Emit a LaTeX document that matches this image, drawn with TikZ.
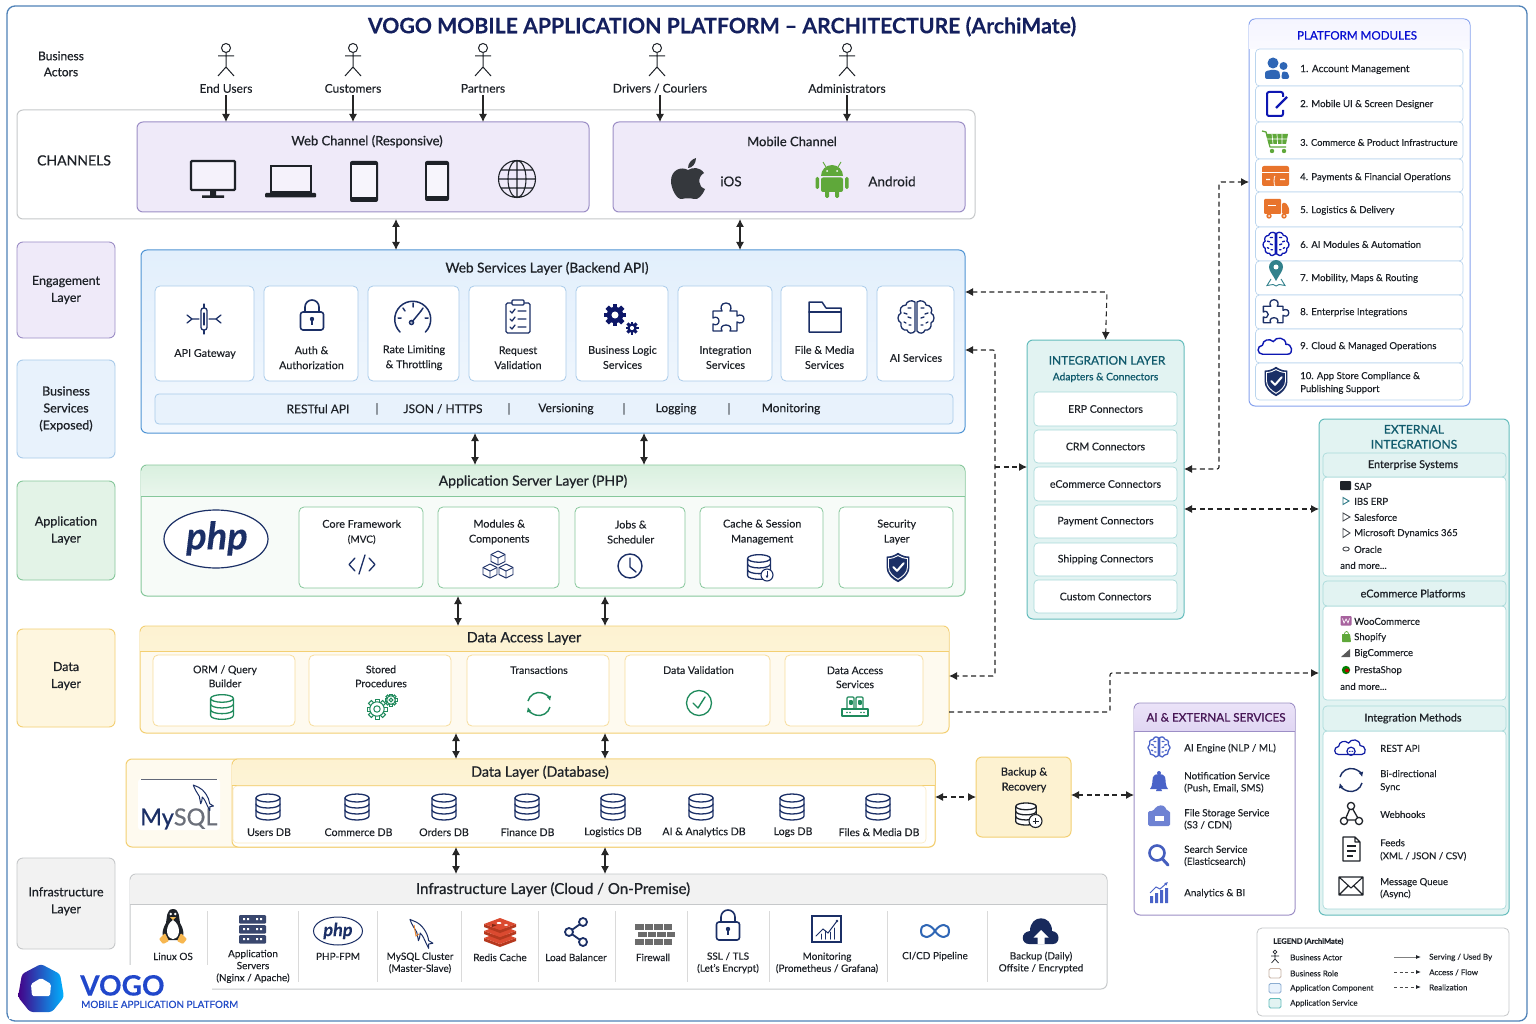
\documentclass[tikz,border=0pt]{standalone}
\usepackage{fontspec}
\setmainfont{Lato}[FakeBold=0.15]
\newfontfamily\med[FakeBold=0.7]{Lato}
\usetikzlibrary{arrows.meta,calc}
\definecolor{ink}{HTML}{1E2228}
\definecolor{navy}{HTML}{1B2F66}
\definecolor{titlec}{HTML}{14205E}
\definecolor{frame}{HTML}{4F82B8}
\definecolor{purb}{HTML}{9C8EC6}
\definecolor{purf}{HTML}{EFEAF9}
\definecolor{blub}{HTML}{4F94D4}
\definecolor{bluf}{HTML}{E8F2FC}
\definecolor{blul}{HTML}{A9CBEA}
\definecolor{grnb}{HTML}{86C79B}
\definecolor{grnf}{HTML}{E3F3E7}
\definecolor{yelb}{HTML}{F3CF72}
\definecolor{yelf}{HTML}{FDF2D1}
\definecolor{gryb}{HTML}{C6C8CA}
\definecolor{gryf}{HTML}{F2F2F2}
\definecolor{teab}{HTML}{63BCBC}
\definecolor{teaf}{HTML}{E2F3F2}
\definecolor{teat}{HTML}{105A6C}
\definecolor{tgrn}{HTML}{1F8A5C}
\definecolor{modb}{HTML}{2F66B5}
\definecolor{orng}{HTML}{E8742C}
\definecolor{cartg}{HTML}{5FA83A}
\definecolor{aib}{HTML}{4A63C8}
\definecolor{arrc}{HTML}{262626}
\definecolor{hgtop}{HTML}{D9F0DF}
\definecolor{hgbot}{HTML}{EAF6ED}
\definecolor{hptop}{HTML}{EBE3F8}
\definecolor{hpbot}{HTML}{E0D6F3}
\definecolor{webtop}{HTML}{E2EFFC}
\definecolor{webbot}{HTML}{F3F8FE}
\definecolor{redb}{HTML}{DB4A30}
\definecolor{redd}{HTML}{B5391F}
\newcounter{tn}
\tikzset{
 f/.style args={#1/#2}{font=\fontsize{#1}{#2}\selectfont},
 txt/.style={inner sep=0,align=center,text=ink,f=11/14,yshift=-0.4pt},
 ltxt/.style={txt,anchor=west,align=left},
 card/.style={draw=#1,fill=white,rounded corners=5pt,line width=.8pt},
 side/.style 2 args={draw=#1,fill=#2,rounded corners=6pt,line width=.9pt,text=ink,align=center,font=\fontsize{12.5}{17}\med},
 panel/.style 2 args={draw=#1,fill=#2,rounded corners=6pt,line width=1pt},
 bi/.style={line width=1.1pt,draw=arrc,{Latex[length=8pt,width=8pt]}-{Latex[length=8pt,width=8pt]}},
 one/.style={line width=1.1pt,draw=arrc,-{Latex[length=8pt,width=8pt]}},
 dbi/.style={line width=1.1pt,draw=arrc,dash pattern=on 5pt off 3.5pt,rounded corners=2pt,{Latex[length=8pt,width=8pt]}-{Latex[length=8pt,width=8pt]}},
 done/.style={line width=1.1pt,draw=arrc,dash pattern=on 5pt off 3.5pt,rounded corners=2pt,-{Latex[length=8pt,width=8pt]}},
 ico/.style={line width=1.3pt,line cap=round,line join=round},
}
\newcommand{\pbx}[7]{\pgfmathsetmacro\bxw{#5-#3}\pgfmathsetmacro\bxh{#6-#4}\pgfmathsetmacro\bxx{(#3+#5)/2}\pgfmathsetmacro\bxy{(#4+#6)/2}\node[#2,minimum width=\bxw pt,minimum height=\bxh pt,inner sep=0,outer sep=0] (#1) at (\bxx,\bxy) {#7};}
\newcommand{\ptx}[4][]{\stepcounter{tn}\node[txt,#1] (t\arabic{tn}) at (#2,#3) {#4};}
\newcommand{\plx}[4][]{\stepcounter{tn}\node[ltxt,#1] (t\arabic{tn}) at (#2,#3) {#4};}
\newcommand{\phead}[7]{\path[top color=#5,bottom color=#6] (#1,#4) [rounded corners=#7pt] -- (#1,#2) -- (#3,#2) [sharp corners] -- (#3,#4) -- cycle;}
% icons
\newcommand{\icdb}[4]{\begin{scope}[shift={(#1,#2)},scale=#3,color=#4,ico]
\draw[fill=white] (-12,-9) -- (-12,9) arc (180:0:12 and 4) -- (12,-9);
\draw[fill=white] (0,-9) ellipse (12 and 4);
\draw (-12,-3) arc (180:0:12 and 4) (-12,3) arc (180:0:12 and 4);
\end{scope}}
\newcommand{\icbrain}[4]{\begin{scope}[shift={(#1,#2)},scale=#3,color=#4,ico]
\foreach \s in {1,-1}{\begin{scope}[xscale=\s]
\draw[fill=white] (1,-15)..controls(5,-18)and(10,-15)..(10,-12)..controls(15,-12)and(17,-7)..(15,-4)..controls(19,-2)and(19,4)..(15,6)..controls(16,10)and(13,14)..(9,13)..controls(8,17)and(3,17)..(1,14)--cycle;
\draw (5,-9)--(8,-9) (9,-3)--(12,-4) (5,1)--(8,0) (10,6)--(12,5) (5,8)--(7,8);
\end{scope}}
\end{scope}}
\newcommand{\icpuzzle}[5]{\begin{scope}[shift={(#1,#2)},scale=#3,color=#4,ico]
\draw[fill=#5] (-13,-7) -- (-4,-7) .. controls (-6,-10) and (-5,-15) .. (0,-15) .. controls (5,-15) and (6,-10) .. (4,-7) -- (11,-7) -- (11,-2) .. controls (14,-4) and (18,-3) .. (18,1) .. controls (18,5) and (14,6) .. (11,4) -- (11,13) -- (4,13) .. controls (6,10) and (4,7) .. (0,7) .. controls (-4,7) and (-6,10) .. (-4,13) -- (-13,13) -- (-13,6) .. controls (-10,8) and (-7,6) .. (-7,3) .. controls (-7,0) and (-10,-2) .. (-13,0) -- cycle;
\end{scope}}
\newcommand{\iccloud}[3]{(-15,8) .. controls (-21,8) and (-22,-1) .. (-15,-2) .. controls (-15,-8) and (-7,-10) .. (-3,-6) .. controls (0,-12) and (11,-11) .. (11,-3) .. controls (18,-4) and (20,8) .. (13,8) -- cycle}
\newcommand{\icshield}[3]{\begin{scope}[shift={(#1,#2)},scale=#3]
\fill[navy] (0,-15) .. controls (4,-12) and (8,-11) .. (12,-11) -- (12,0) .. controls (12,8) and (6,13) .. (0,16) .. controls (-6,13) and (-12,8) .. (-12,0) -- (-12,-11) .. controls (-8,-11) and (-4,-12) .. (0,-15) -- cycle;
\draw[white,line width=.9pt] (0,-12) .. controls (3,-10) and (7,-9) .. (10,-9) -- (10,0) .. controls (10,6) and (5,10) .. (0,13) .. controls (-5,10) and (-10,6) .. (-10,0) -- (-10,-9) .. controls (-7,-9) and (-3,-10) .. (0,-12) -- cycle;
\draw[white,line width=2pt,line cap=round,line join=round] (-5,0) -- (-1,4) -- (6,-4);
\end{scope}}
\newcommand{\icgearf}[4]{\begin{scope}[shift={(#1,#2)}]
\foreach \a in {0,45,...,315}{\fill[#4,rotate=\a] ({-0.22*#3},{-#3}) rectangle ({0.22*#3},{-0.6*#3});}
\fill[#4] (0,0) circle ({0.75*#3});\fill[white] (0,0) circle ({0.32*#3});
\end{scope}}
\newcommand{\icgearo}[4]{\begin{scope}[shift={(#1,#2)},color=#4,line width=1pt]
\foreach \a in {0,45,...,315}{\draw[rotate=\a,fill=white] ({-0.2*#3},{-#3}) rectangle ({0.2*#3},{-0.6*#3});}
\draw[fill=white] (0,0) circle ({0.72*#3});\draw (0,0) circle ({0.32*#3});
\end{scope}}
\newcommand{\iclock}[3]{\begin{scope}[shift={(#1,#2)},scale=#3,color=navy,line width=1.6pt,line join=round]
\draw (-7,-3) -- (-7,-8) arc (180:360:7) -- (7,-3);
\draw[fill=white,rounded corners=2.5pt] (-11.5,-3) rectangle (11.5,15);
\fill (0,4) circle (2.2); \draw (0,4) -- (0,10);
\end{scope}}
\newcommand{\icdolph}[4]{\begin{scope}[shift={(#1,#2)},scale=#3,color=#4,line width=1pt,line join=round,line cap=round]
\draw (-13,-16) -- (-6,-13) .. controls (1,-10) and (8,0) .. (9,9) -- (14,12) -- (9,13) -- (9,18) -- (6,12) .. controls (4,8) and (3,4) .. (-1,0) .. controls (-1,4) and (-2,7) .. (-3,9) -- (-5,-1) .. controls (-8,-6) and (-11,-10) .. (-13,-16) -- cycle;
\end{scope}}
\newcommand{\iccycle}[4]{\begin{scope}[shift={(#1,#2)},scale=#3,color=#4,line width=1.4pt]
\draw[-{Latex[length=5pt,width=5pt]}] (-11,-3) arc (195:345:11.5);
\draw[-{Latex[length=5pt,width=5pt]}] (11,3) arc (15:165:11.5);
\end{scope}}
\begin{document}
\begin{tikzpicture}[x=1pt,y=-1pt]
\useasboundingbox (0,0) rectangle (1536,1024);
\fill[white] (0,0) rectangle (1536,1024);
\pbx{outer}{draw=frame,fill=white,rounded corners=8pt,line width=1.3pt}{7}{6}{1527}{1021}{}
\node[txt,text=titlec,font=\fontsize{21.25}{26}\bfseries] (title) at (722,26.2) {VOGO MOBILE APPLICATION PLATFORM – ARCHITECTURE (ArchiMate)};
\ptx[f=12/16]{61}{63.5}{\med Business\\\med Actors}
% actors
\foreach \n/\ax/\lx/\lab in {a/226/226/End Users,b/353/353/Customers,c/483/483/Partners,d/657/660/{Drivers / Couriers},e/847/847/Administrators}{
 \draw[line width=1pt,ink] (\ax,48) circle (4.5) (\ax,52.5) -- (\ax,67) (\ax-8,56) -- (\ax+8,56) (\ax-8,76) -- (\ax,67) -- (\ax+8,76);
 \node[txt,f=12/15] (act\n) at (\lx,88) {\lab};
}
% channels
\pbx{chan}{panel={gryb}{white!97!gryf}}{17}{110}{975}{219}{}
\ptx[f=14/16]{74}{160}{\med CHANNELS}
\pbx{webc}{panel={purb}{purf}}{137}{122}{589}{212}{}
\ptx[f=13/16]{367}{141}{\med Web Channel (Responsive)}
\pbx{mobc}{panel={purb}{purf}}{613}{122}{965}{212}{}
\ptx[f=13/16]{792}{141}{\med Mobile Channel}
\ptx[f=13.5/16]{731}{181}{iOS}
\ptx[f=13.5/16]{892}{181}{Android}
\foreach \n/\ax in {a/226,b/353,c/483}{\draw[one,shorten <=2pt] (act\n.south) -- (act\n.south |- webc.north);}
\coordinate (dx) at (660,0);\coordinate (ex) at (847,0);
\draw[one,shorten <=2pt] (dx |- actd.south) -- (dx |- mobc.north);
\draw[one,shorten <=2pt] (ex |- acte.south) -- (ex |- mobc.north);
% device icons
\draw[ink,line width=2.4pt,fill=purf!60!white,rounded corners=1pt] (191,161) rectangle (235,190);
\fill[ink] (210,191) rectangle (216,196) (202,195.5) rectangle (224,198);
\draw[ink,line width=1.8pt,fill=purf!60!white] (271,166) rectangle (311,192);
\fill[ink,rounded corners=1pt] (265,193) rectangle (316,197.5);
\fill[ink,rounded corners=2pt] (350,161) rectangle (378,202);
\fill[purf!50!white] (352,165) rectangle (376,197);
\fill[ink,rounded corners=2pt] (425,161) rectangle (449,201);
\fill[purf!50!white] (426.7,165) rectangle (447.3,196);
\begin{scope}[shift={(517,179)},ink,line width=1.1pt]
\draw (0,0) circle (18.5) (0,0) ellipse (9 and 18.5) (0,-18.5) -- (0,18.5) (-18.5,0) -- (18.5,0) (-16,-9) -- (16,-9) (-16,9) -- (16,9);
\end{scope}
% apple
\begin{scope}[shift={(688,179)},ink!90!white]
\fill (0,-9) .. controls (5,-12) and (12,-12) .. (16,-6) .. controls (9,-2) and (10,8) .. (17,10) .. controls (14,17) and (10,21) .. (6,20) .. controls (3,19) and (-3,19) .. (-6,20) .. controls (-11,21) and (-17,10) .. (-17,2) .. controls (-17,-9) and (-7,-13) .. (0,-9) -- cycle;
\fill (0,-11) .. controls (0,-16) and (4,-20) .. (8,-21) .. controls (8,-15) and (4,-11) .. (0,-11) -- cycle;
\end{scope}
% android
\begin{scope}[shift={(832,180)},cartg]
\fill (-11,-4) arc (180:360:11 and 11) -- cycle;
\fill[rounded corners=2pt] (-11,-2.5) rectangle (11,12);
\fill[rounded corners=1.5pt] (-16.5,-3) rectangle (-13,9) (13,-3) rectangle (16.5,9) (-7,10) rectangle (-3,18) (3,10) rectangle (7,18);
\draw[line width=.9pt] (-6,-13) -- (-9,-18) (6,-13) -- (9,-18);
\fill[white] (-5,-9) circle (1) (5,-9) circle (1);
\end{scope}
% side labels
\pbx{sEng}{side={purb}{purf}}{17}{242}{115}{338}{Engagement\\Layer}
\pbx{sBus}{side={blul}{bluf}}{17}{360}{115}{458}{Business\\Services\\(Exposed)}
\pbx{sApp}{side={grnb}{grnf}}{17}{481}{115}{580}{Application\\Layer}
\pbx{sDat}{side={yelb}{yelf!70!white},text depth=6pt}{17}{629}{115}{727}{Data\\Layer}
\pbx{sInf}{side={gryb}{gryf},text depth=6.5pt}{17}{858}{115}{949}{Infrastructure\\Layer}
% web services layer
\pbx{web}{draw=blub,top color=webtop,bottom color=webbot,rounded corners=6pt,line width=1pt}{141}{250}{965}{433}{}
\ptx[f=13.6/16]{547}{268}{\med Web Services Layer (Backend API)}
\foreach \n/\xa/\xb/\lab/\ty in {1/155/254/API Gateway/353.5, 2/264/358/{Auth \&\\Authorization}/357.3, 3/368/459/{Rate Limiting\\\& Throttling}/357.3, 4/469/566/{Request\\Validation}/357.3, 5/576/668/{Business Logic\\Services}/357, 6/678/772/{Integration\\Services}/357, 7/781/867/{File \& Media\\Services}/357, 8/877/954/AI Services/357.5}{
 \pbx{wc\n}{card=blul}{\xa}{286}{\xb}{381}{}
 \pgfmathsetmacro\cx{(\xa+\xb)/2+.5}
 \node[txt,f=10.8/15] (wl\n) at (\cx,\ty) {\lab};
}
% web icons
\begin{scope}[shift={(204,319)},navy,ico]
\draw[rounded corners=2.5pt] (-3,-11) rectangle (3,11);
\draw (0,-15) -- (0,-11) (0,11) -- (0,15) (0,-6) -- (0,6);
\draw (-17,-4) -- (-12,0) -- (-17,4) (-12,0) -- (-5,0) (17,-4) -- (12,0) -- (17,4) (12,0) -- (5,0);
\end{scope}
\iclock{312}{315}{1}
\begin{scope}[shift={(413,320)},navy,line width=1.5pt,line cap=round]
\draw (-13,12) arc (135:405:18);
\draw (-15,-2) -- (-12,-2) (0,-17) -- (0,-13) (15,-2) -- (12,-2) (-10,-12) -- (-8,-9) (10,-12) -- (8,-9);
\draw (-1,2) -- (8,-9); \draw (-1.5,2.5) circle (2);
\end{scope}
\begin{scope}[shift={(518,317)},navy,ico]
\draw[rounded corners=1.5pt] (-12,-14) rectangle (12,16);
\draw[fill=white,rounded corners=1pt] (-6,-17) rectangle (6,-12);
\foreach \yy in {-6,2,10}{\draw (-8,\yy) -- (-6,{\yy+2}) -- (-3,{\yy-2}) (0,\yy) -- (8,\yy);}
\end{scope}
\icgearf{615}{315}{11}{navy!70!blue!70!black}
\icgearf{632}{328}{6.5}{navy!70!blue!70!black}
\icpuzzle{726}{318}{1}{navy}{white}
\begin{scope}[navy,ico,line width=1.5pt]
\draw[fill=white] (809,332) -- (809,302) -- (822,302) -- (826,308) -- (841,308) -- (841,332) -- cycle;
\draw (809,312) -- (841,312);
\end{scope}
\icbrain{916}{317}{1}{navy}
\pbx{strip}{draw=blul,fill=bluf,rounded corners=4pt,line width=.8pt}{155}{394}{953}{424}{}
\foreach \xx/\lab in {318/RESTful API,377/|,443/{JSON / HTTPS},509/|,566/Versioning,624/|,676/Logging,729/|,791/Monitoring}{\ptx[f=12/14]{\xx}{408.5}{\lab}}
% application server
\pbx{app}{panel={grnb}{white!70!grnf}}{141}{465}{965}{596}{}
\phead{141.5}{465.5}{964.5}{496}{hgtop}{hgbot}{6}
\draw[grnb,line width=.7pt] (141,496) -- (965,496);
\ptx[f=14/16]{533}{481}{\med Application Server Layer (PHP)}
\draw[navy,line width=1.2pt,fill=white] (216,539) ellipse (52 and 29);
\ptx[text=navy,font=\fontsize{38}{40}\bfseries\itshape]{217}{538}{php}
\foreach \n/\xa/\xb/\lab in {1/299/423/{Core Framework\\{\fontsize{10}{13}\selectfont(MVC)}},2/438/559/{Modules \&\\Components},3/575/685/{Jobs \&\\Scheduler},4/700/823/{Cache \& Session\\Management},5/839/953/{Security\\Layer}}{
 \pbx{ac\n}{card=grnb}{\xa}{507}{\xb}{588}{}
 \pgfmathsetmacro\cx{(\xa+\xb)/2+.7}
 \node[txt,f=10.8/15] (al\n) at (\cx,531.6) {\lab};
}
\begin{scope}[navy,ico]
\draw (355,558) -- (349,564.5) -- (355,571) (369,558) -- (375,564.5) -- (369,571) (365,555) -- (359,574);
\end{scope}
\begin{scope}[shift={(498,566)},navy,line width=.9pt,line join=round,fill=white]
\foreach \cxx/\cyy in {0/-9,-8/4,8/4}{
\begin{scope}[shift={(\cxx,\cyy)}]
\draw[fill=white] (0,-6) -- (7,-2.5) -- (7,4.5) -- (0,8) -- (-7,4.5) -- (-7,-2.5) -- cycle;
\draw (-7,-2.5) -- (0,1) -- (7,-2.5) (0,1) -- (0,8);
\end{scope}}
\end{scope}
\draw[navy,line width=1.4pt] (630,566) circle (12);
\draw[navy,line width=1.4pt,line cap=round] (630,558) -- (630,567) -- (636,572);
\icdb{759}{567}{.95}{navy}
\draw[navy,line width=1.1pt,fill=white] (767,575) circle (6);
\draw[navy,line width=.9pt,-{Latex[length=3pt,width=3pt]}] (767,571) -- (767,578.5);
\icshield{898}{567}{.95}
% data access
\pbx{dal}{panel={yelb}{yelf!35!white}}{140}{626}{949}{733}{}
\phead{140.5}{626.5}{948.5}{651}{yelf}{yelf!90!white}{6}
\draw[yelb,line width=.7pt] (140,651) -- (949,651);
\ptx[f=14.3/16]{524}{638}{\med Data Access Layer}
\foreach \n/\xa/\xb/\lab/\ty in {1/153/295/{ORM / Query\\Builder}/676,2/309/451/{Stored\\Procedures}/676,3/467/609/Transactions/669.7,4/625/770/Data Validation/669.7,5/785/923/{Data Access\\Services}/677}{
 \pbx{dc\n}{card=yelb!70!white}{\xa}{655}{\xb}{726}{}
 \pgfmathsetmacro\cx{(\xa+\xb)/2+1}
 \node[txt,f=10.5/14] (dl\n) at (\cx,\ty) {\lab};
}
\icdb{222}{707}{.95}{tgrn}
\icgearo{377}{709}{10}{tgrn}
\icgearo{391}{700}{6}{tgrn}
\iccycle{539}{704}{1}{tgrn}
\draw[tgrn,line width=1.3pt] (699,703) circle (12.5);
\draw[tgrn,line width=1.4pt,line cap=round,line join=round] (693,703) -- (698,708) -- (705,697);
\begin{scope}[shift={(855,706)},tgrn,line width=1.2pt,line join=round]
\draw (-13,3) rectangle (13,10);
\draw[rounded corners=1pt] (-8,3) -- (-8,-9) -- (-1,-9) -- (-1,3) (1,3) -- (1,-9) -- (8,-9) -- (8,3);
\draw (-5,-5) rectangle (-3,-2) (4,-5) rectangle (6,-2);
\fill (-8,6.5) circle (.9) (-5,6.5) circle (.9) (6,6.5) circle (.9) (9,6.5) circle (.9);
\end{scope}
% database layer
\pbx{mysqlc}{panel={yelb}{yelf!35!white}}{126}{759}{935}{847}{}
\pbx{dbl}{panel={yelb}{white}}{232}{759}{935}{847}{}
\phead{232.5}{759.5}{934.5}{785}{yelf}{yelf!90!white}{6}
\draw[yelb,line width=.7pt] (232,785) -- (935,785);
\pbx{dbb}{draw=yelb!45!white,fill=white,rounded corners=4pt,line width=.6pt}{233}{786}{926}{843}{}
\ptx[f=14.3/16]{540}{772}{\med Data Layer (Database)}
\pbx{mysqll}{fill=white,rounded corners=3pt}{138}{779}{220}{830}{}
\draw[gray!70!navy,line width=.9pt] (141,779) -- (217,779);
\plx[text=navy,font=\fontsize{23.5}{26}\med]{140}{818.5}{My\textcolor{gray!80!navy}{SQL}}
\icdolph{203}{797}{.75}{navy}
\foreach \n/\xx/\lx/\lab in {1/268/269/Users DB,2/357/358.5/Commerce DB,3/444/444/Orders DB,4/527/527.5/Finance DB,5/613/613/Logistics DB,6/701/704/AI \& Analytics DB,7/792/793/Logs DB,8/878/879/Files \& Media DB}{
 \icdb{\xx}{807}{1}{navy}
 \node[txt,f=10.6/14] (dbt\n) at (\lx,831.8) {\lab};
}
% backup
\pbx{bkp}{panel={yelb}{yelf}}{976}{757}{1071}{837}{}
\ptx[f=11/15]{1024}{779.5}{\med Backup \&\\\med Recovery}
\icdb{1026}{814}{.85}{ink}
\draw[ink,line width=1.1pt,fill=white] (1035.5,821) circle (6.5);
\draw[ink,line width=1pt] (1032.5,821) -- (1038.5,821) (1035.5,818) -- (1035.5,824);
% infrastructure
\pbx{inf}{panel={gryb}{white}}{130}{874}{1107}{989}{}
\phead{130.5}{874.5}{1106.5}{904}{gryf}{gryf}{6}
\draw[gryb,line width=.7pt] (130,904) -- (1107,904);
\ptx[f=15.1/16]{553}{889}{\med Infrastructure Layer (Cloud / On-Premise)}
\foreach \xx in {207,298,377,461,538,615,687,769,887,987}{\draw[gryf!90!black,line width=1pt] (\xx,911) -- (\xx,982);}
\ptx[f=10/12]{173}{956}{Linux OS}
\ptx[f=10/12]{253}{966}{Application\\Servers\\(Nginx / Apache)}
\ptx[f=10/12]{338}{956}{PHP-FPM}
\ptx[f=10/12]{420}{962.5}{MySQL Cluster\\(Master-Slave)}
\ptx[f=10/12]{500}{957}{Redis Cache}
\ptx[f=10/12]{576}{957}{Load Balancer}
\ptx[f=10/12]{653}{957}{Firewall}
\ptx[f=10/12]{728}{962.5}{SSL / TLS\\(Let's Encrypt)}
\ptx[f=10/12]{827}{962.5}{Monitoring\\(Prometheus / Grafana)}
\ptx[f=10/12]{935}{956}{CI/CD Pipeline}
\ptx[f=10/12]{1041}{962}{Backup (Daily)\\Offsite / Encrypted}
% penguin
\begin{scope}[shift={(173,927)}]
\fill[ink] (0,-18) .. controls (-7,-18) and (-6,-8) .. (-7,-4) .. controls (-12,4) and (-11,12) .. (-7,13) -- (7,13) .. controls (11,12) and (12,4) .. (7,-4) .. controls (6,-8) and (7,-18) .. (0,-18) -- cycle;
\fill[white] (0,-7) .. controls (-8,-2) and (-8,11) .. (0,12) .. controls (8,11) and (8,-2) .. (0,-7) -- cycle;
\fill[white] (-2.2,-13) circle (1.4) (2.2,-13) circle (1.4);
\fill[yelb!80!orange] (-3,-10) -- (3,-10) -- (0,-7) -- cycle;
\fill[yelb!70!orange,rounded corners=1pt] (-14,12) -- (-8,6) -- (-4,14) -- (-10,17) -- cycle (14,12) -- (8,6) -- (4,14) -- (10,17) -- cycle;
\end{scope}
% servers
\foreach \yy in {915,925,935}{\fill[navy!70!gray,rounded corners=1pt] (239,\yy) rectangle (266,{\yy+8.5});
\fill[white] (243,{\yy+3}) rectangle (245,{\yy+5}) (247,{\yy+3}) rectangle (249,{\yy+5}) (256,{\yy+3}) rectangle (258,{\yy+5}) (260,{\yy+3}) rectangle (262,{\yy+5});}
\draw[navy,line width=1pt,fill=white] (338,931) ellipse (24.5 and 14);
\ptx[text=navy,font=\fontsize{18}{20}\bfseries\itshape]{338}{930.5}{php}
\icdolph{421}{933}{.85}{navy}
\draw[orng!90!yellow,line width=.9pt] (414,925) -- (416,936) -- (419,934);
% redis
\begin{scope}[shift={(500,931)}]
\foreach \yy in {7,0,-7}{\fill[redd] (-16,{\yy}) -- (0,{\yy+6}) -- (16,{\yy}) -- (16,{\yy+3}) -- (0,{\yy+9}) -- (-16,{\yy+3}) -- cycle;
\fill[redb] (-16,\yy) -- (0,{\yy-6}) -- (16,\yy) -- (0,{\yy+6}) -- cycle;}
\fill[white] (-1,-8) ellipse (2.5 and 1) (6,-6) ellipse (2 and .8);
\fill[redd!70!black] (-8,-7) -- (-3,-6) -- (-8,-4) -- cycle;
\end{scope}
% share
\begin{scope}[shift={(575,932)},navy,line width=1.8pt]
\draw (8,-10) -- (-6,0) -- (8,10);
\draw[fill=white] (8,-10) circle (4) (-6,0) circle (4) (8,10) circle (4);
\end{scope}
% firewall
\foreach \yy/\off in {924/0,931.5/3,939/0}{\foreach \k in {0,1,2,3}{\fill[gray!85!black] ({635+\off+\k*9.5},\yy) rectangle +(8.5,5.5);}}
\iclock{728}{925}{1}
% monitoring chart
\begin{scope}[shift={(827,929)},navy,line width=1pt,line cap=round]
\draw[line width=1.1pt] (-15,-13) rectangle (14,13);
\draw (-11,7) -- (-4,0) -- (1,4) -- (10,-8);
\draw[line width=1pt] (-6,10) -- (-6,5) (-2,10) -- (-2,2) (3,10) -- (3,3) (7,10) -- (7,-1);
\fill (10,-8) circle (1.3);
\end{scope}
\draw[modb,line width=2pt] (935,931) .. controls (930,923) and (921,923) .. (921,931) .. controls (921,939) and (930,939) .. (935,931) .. controls (940,923) and (949,923) .. (949,931) .. controls (949,939) and (940,939) .. (935,931) -- cycle;
\fill[navy!90!black] (1029,944) .. controls (1021,944) and (1020,932) .. (1030,931) .. controls (1030,914) and (1052,914) .. (1052,931) .. controls (1061,932) and (1060,944) .. (1053,944) -- cycle;
\fill[white] (1041,930) -- (1048.5,937.5) -- (1044.5,937.5) -- (1044.5,944) -- (1037.5,944) -- (1037.5,937.5) -- (1033.5,937.5) -- cycle;
% logo mask and logo
\fill[white] (8.5,965) rectangle (212,1019);
\begin{scope}[shift={(41,988)}]
\path[left color=blue!55!purple!80!black,right color=cyan!70!blue,rounded corners=3pt] (0,-24) -- (19,-14) -- (23,9) -- (11,24) -- (-11,24) -- (-23,9) -- (-19,-14) -- cycle;
\fill[white,rounded corners=1.5pt] (0,-10) -- (10,-4) -- (9,8) -- (-9,8) -- (-10,-4) -- cycle;
\end{scope}
\plx[text=modb!70!blue,font=\fontsize{28}{32}\bfseries]{80}{985}{VOGO}
\plx[text=modb!75!blue,font=\fontsize{9.9}{12}\med]{81}{1004}{MOBILE APPLICATION PLATFORM}
% platform modules
\pbx{mods}{panel={blul!80!blue}{white}}{1249}{19}{1470}{406}{}
\phead{1249.5}{19.5}{1469.5}{49}{blue!4!white}{blue!2!white}{6}
\ptx[text=blue!70!navy,font=\fontsize{11.6}{14}\med]{1357}{35}{PLATFORM MODULES}
\foreach \n/\ya/\yb/\yt/\lab in {1/49/86/69/{\fontsize{10.1}{13}\selectfont 1. Account Management},2/86/122/104/2. Mobile UI \& Screen Designer,3/122/159/142/{\fontsize{9.35}{13}\selectfont 3. Commerce \& Product Infrastructure},4/159/192/177/4. Payments \& Financial Operations,5/192/227/210/5. Logistics \& Delivery,6/227/261/244/6. AI Modules \& Automation,7/261/295/278/{7. Mobility, Maps \& Routing},8/295/329/312/8. Enterprise Integrations,9/329/363/346/9. Cloud \& Managed Operations,10/363/400/382.5/{10. App Store Compliance \&\\Publishing Support}}{
 \pbx{mr\n}{draw=blul!80!white,fill=white,rounded corners=4pt,line width=.7pt}{1255.5}{\ya}{1463}{\yb}{}
 \node[ltxt,f=9.6/13] (ml\n) at (1300,\yt) {\lab};
}
% module icons
\begin{scope}[modb]
\fill (1273,63) circle (5.5) (1283.5,66) circle (4);
\fill[rounded corners=2pt] (1265,79) -- (1265,75) .. controls (1265,71) and (1269,70) .. (1273,70) .. controls (1277,70) and (1279,71) .. (1280,74) -- (1280,79) -- cycle;
\fill[rounded corners=2pt] (1281.5,79) -- (1281.5,74) .. controls (1283,71) and (1287,72) .. (1289,74) -- (1289,79) -- cycle;
\draw[line width=2pt,rounded corners=2pt,navy!50!blue] (1283,97) -- (1283,92) -- (1267,92) -- (1267,116) -- (1283,116) -- (1283,110);
\draw[line width=2.2pt,navy!50!blue] (1276,108) -- (1287,97);
\end{scope}
\begin{scope}[cartg,line width=1.3pt,line join=round]
\draw (1262,131) -- (1266,132) -- (1270,147) -- (1286,147);
\fill (1266,134) -- (1288,134) -- (1286,144) -- (1269,144) -- cycle;
\fill (1272,151) circle (2.2) (1284,151) circle (2.2);
\draw[white,line width=.7pt] (1272,134) -- (1273,144) (1277,134) -- (1277.5,144) (1282,134) -- (1282,144) (1267,139) -- (1287,139);
\end{scope}
\begin{scope}[orng]
\fill[rounded corners=2pt] (1262,166) rectangle (1289,186);
\fill[white] (1262,172) rectangle (1289,173.2);
\fill[white] (1266,179) rectangle (1270,180.2) (1280,179) rectangle (1285,180.2);
\draw[white,line width=.8pt] (1275,176) arc (90:270:1 and -5);
\fill[rounded corners=1pt] (1264,199) rectangle (1281,214);
\fill[rounded corners=1pt] (1282,203) -- (1286,203) -- (1289,208) -- (1289,214) -- (1282,214) -- cycle;
\fill[white] (1268,205) rectangle (1276,206);
\fill (1269,216) circle (2.7) (1284,216) circle (2.7);
\fill[white] (1269,216) circle (1) (1284,216) circle (1);
\end{scope}
\icbrain{1276}{244}{.72}{navy!50!blue}
\begin{scope}[shift={(1276,272)},teat!60!teab]
\fill (0,9) .. controls (-3,3) and (-7,-1) .. (-7,-5) arc (180:360:7) .. controls (7,-1) and (3,3) .. (0,9) -- cycle;
\fill[white] (0,-5) circle (2.5);
\draw[line width=.9pt] (-5,7) -- (-9,13.5) -- (-3,12.5) -- (0,14) -- (3,12.5) -- (9,13.5) -- (5,7);
\end{scope}
\icpuzzle{1274}{312}{.82}{navy}{white}
\begin{scope}[shift={(1276,347)},scale=.9,color=navy!50!blue,line width=1.4pt]
\draw \iccloud{}{}{};
\end{scope}
\icshield{1276}{381}{.95}
% integration layer
\pbx{integ}{panel={teab}{teaf}}{1027}{340}{1184}{619}{}
\ptx[text=teat,font=\fontsize{11.9}{14}\med]{1107}{360}{INTEGRATION LAYER}
\ptx[text=teat,font=\fontsize{10.3}{12}\med]{1105.5}{377}{Adapters \& Connectors}
\foreach \n/\ya/\yb/\lab in {1/392/426/ERP Connectors,2/430/463/CRM Connectors,3/467/501/eCommerce Connectors,4/505/538/Payment Connectors,5/543/576/Shipping Connectors,6/580/613/Custom Connectors}{
 \pbx{ic\n}{draw=teab!55!white,fill=white,rounded corners=4pt,line width=.7pt,f=10.5/12,text=ink}{1034}{\ya}{1177}{\yb}{\lab}
}
% external integrations
\pbx{ext}{panel={teab}{teaf}}{1319}{419}{1509}{915}{}
\ptx[text=teat,font=\fontsize{12.1}{15}\med]{1414}{436.5}{EXTERNAL\\INTEGRATIONS}
\foreach \n/\ya/\yb/\yc/\ty/\lab in {1/453/477/576/465/Enterprise Systems,2/581/606/700/593/eCommerce Platforms,3/706/731/909/718/Integration Methods}{
 \pbx{xb\n}{draw=teab!55!white,fill=white,rounded corners=4pt,line width=.7pt}{1323}{\yb}{1506}{\yc}{}
 \pbx{xh\n}{draw=teab!55!white,fill=teaf,rounded corners=4pt,line width=.7pt,font=\fontsize{10.8}{12}\med,text=ink}{1323}{\ya}{1506}{\yb}{\lab\hspace*{3pt}}
}
\foreach \yy/\lab in {486/SAP,501/IBS ERP,517/Salesforce,533/Microsoft Dynamics 365,549/Oracle,621/WooCommerce,637/Shopify,653/BigCommerce,670/PrestaShop}{\plx[f=9.6/12]{1354}{\yy}{\lab}}
\plx[f=9.6/12]{1340}{565}{and more...}
\plx[f=9.6/12]{1340}{686}{and more...}
\fill[ink,rounded corners=.8pt] (1340,481) rectangle (1351,490);
\draw[teat!70!teab,line width=.9pt] (1343,497.5) -- (1349,501) -- (1343,504.5) -- cycle;
\draw[ink!80!white,line width=.9pt] (1343,513) -- (1350,517) -- (1343,521) -- cycle;
\draw[ink!80!white,line width=.9pt] (1343,528.5) -- (1350,533) -- (1343,537.5) -- cycle;
\draw[ink!80!white,line width=.9pt] (1346,549) ellipse (3.2 and 2);
\fill[purb!70!purple,rounded corners=.8pt] (1340.5,616) rectangle (1351.5,625.5);
\draw[white,line width=.7pt] (1342.5,618.5) -- (1344,623) -- (1346,619) -- (1348,623) -- (1349.5,618.5);
\fill[cartg,rounded corners=.6pt] (1342,634) -- (1350,634) -- (1351,642) -- (1342,642) -- cycle;
\draw[cartg,line width=.7pt] (1344.5,634) arc (180:360:2 and 2.5);
\fill[gray!70!black] (1341,657) -- (1350,649) -- (1350,657) -- cycle;
\fill[green!50!black] (1346,670) circle (4.2);
\fill[red!75!black] (1347,670.5) circle (2);
% integration methods items
\plx[f=9.6/12]{1380}{748}{REST API}
\plx[f=9.6/13]{1380}{780.5}{Bi-directional\\Sync}
\plx[f=9.6/12]{1380}{814}{Webhooks}
\plx[f=9.6/13]{1380}{849.5}{Feeds\\(XML / JSON / CSV)}
\plx[f=9.6/12]{1380}{888}{Message Queue\\(Async)}
\begin{scope}[shift={(1351,748)},scale=.82,color=navy!60!blue,line width=1.2pt]
\draw[fill=white] \iccloud{}{}{};
\draw (0,4) circle (5);
\fill (-2,4) circle (.8) (0,4) circle (.8) (2,4) circle (.8);
\end{scope}
\iccycle{1351}{780}{1}{navy}
\begin{scope}[shift={(1351,814)},ink,line width=1.3pt]
\draw (0,-8) -- (-6,6) -- (8,6) -- cycle;
\draw[fill=white] (0,-8) circle (3.6) (-7,7) circle (3.6) (8,7) circle (3.6);
\end{scope}
\begin{scope}[shift={(1351,849)},ink,line width=1.1pt,line join=round]
\draw (-8,-12) -- (4,-12) -- (9,-7) -- (9,12) -- (-8,12) -- cycle (4,-12) -- (4,-7) -- (9,-7);
\draw (-4,-3) -- (5,-3) (-4,2) -- (5,2) (-4,7) -- (2,7);
\end{scope}
\begin{scope}[shift={(1351,886)},ink,line width=1.1pt,line join=round]
\draw (-12,-9) rectangle (12,9) (-12,-9) -- (0,2) -- (12,-9) (-12,9) -- (-3,0) (12,9) -- (3,0);
\end{scope}
% AI services
\pbx{ai}{panel={purb}{white}}{1134}{703}{1295}{915}{}
\phead{1134.5}{703.5}{1294.5}{731}{hptop}{hpbot}{6}
\draw[purb,line width=.7pt] (1134,731) -- (1295,731);
\ptx[text=titlec!70!purple,font=\fontsize{11.7}{14}\med]{1216}{717}{AI \& EXTERNAL SERVICES}
\plx[f=9.9/12]{1184}{748}{AI Engine (NLP / ML)}
\plx[f=9.9/12]{1184}{782}{Notification Service\\(Push, Email, SMS)}
\plx[f=9.9/12]{1184}{819}{File Storage Service\\(S3 / CDN)}
\plx[f=9.9/12]{1184}{855.5}{Search Service\\(Elasticsearch)}
\plx[f=9.9/12]{1184}{893}{Analytics \& BI}
\icbrain{1159}{747}{.62}{aib}
\begin{scope}[shift={(1159,781)},aib]
\fill (-9,8) .. controls (-6,5) and (-7,-1) .. (-6,-4) .. controls (-5,-8) and (5,-8) .. (6,-4) .. controls (7,-1) and (6,5) .. (9,8) -- cycle;
\fill (0,-8) circle (2) (-3,10) arc (180:0:3 and -3) -- cycle;
\end{scope}
\begin{scope}[aib!80!white]
\fill[rounded corners=1.5pt] (1148,811) -- (1153,811) -- (1156,807) .. controls (1162,804) and (1165,806) .. (1167,811) -- (1170,811) -- (1170,826) -- (1148,826) -- cycle;
\fill[white] (1155,816) rectangle (1164,821);
\end{scope}
\draw[aib!90!navy,line width=2.6pt] (1157,853) circle (7.5);
\draw[aib!90!navy,line width=3pt,line cap=round] (1162.5,859) -- (1168,865);
\begin{scope}[aib]
\fill (1150,903) rectangle (1153,896) (1155,903) rectangle (1158,893) (1160,903) rectangle (1163,890) (1165,903) rectangle (1168,888);
\draw[line width=1pt,-{Latex[length=3.5pt,width=3.5pt]}] (1150,893) -- (1156,887) -- (1160,889) -- (1168,882);
\end{scope}
% solid connectors between layers
\coordinate (a1) at (396,0);\coordinate (a2) at (740,0);
\coordinate (a3) at (475,0);\coordinate (a4) at (644,0);
\coordinate (a5) at (458,0);\coordinate (a6) at (605,0);
\coordinate (a7) at (456,0);
\draw[bi] (a1 |- chan.south) -- (a1 |- web.north);
\draw[bi] (a2 |- chan.south) -- (a2 |- web.north);
\draw[bi] (a3 |- web.south) -- (a3 |- app.north);
\draw[bi] (a4 |- web.south) -- (a4 |- app.north);
\draw[bi] (a5 |- app.south) -- (a5 |- dal.north);
\draw[bi] (a6 |- app.south) -- (a6 |- dal.north);
\draw[bi] (a7 |- dal.south) -- (a7 |- dbl.north);
\draw[bi] (a6 |- dal.south) -- (a6 |- dbl.north);
\draw[bi] (a7 |- dbl.south) -- (a7 |- inf.north);
\draw[bi] (a6 |- dbl.south) -- (a6 |- inf.north);
% dashed connectors
\coordinate (b1) at (1107,292);
\draw[dbi] (web.east |- b1) -- (b1) -- (integ.north);
\coordinate (jt) at (995,350);\coordinate (jm) at (995,467);\coordinate (jb) at (995,676);
\draw[dbi] (web.east |- jt) -- (jt) -- (jb) -- (dal.east |- jb);
\draw[done] (jm) -- (integ.west |- jm);
\coordinate (c1) at (1219,469);\coordinate (c2) at (1219,182);
\draw[dbi] (integ.east |- c1) -- (c1) -- (c2) -- (mods.west |- c2);
\coordinate (c3) at (1250,509);
\draw[dbi] (integ.east |- c3) -- (ext.west |- c3);
\coordinate (c4) at (1110,712);\coordinate (c5) at (1110,673);
\draw[done] (dal.east |- c4) -- (c4) -- (c5) -- (ext.west |- c5);
\coordinate (c6) at (955,797);\coordinate (c7) at (1100,795);
\draw[dbi] (dbl.east |- c6) -- (bkp.west |- c6);
\draw[dbi] (bkp.east |- c7) -- (ai.west |- c7);
% legend
\pbx{leg}{draw=gryb,fill=white,rounded corners=5pt,line width=.8pt}{1257}{928}{1509}{1016}{}
\plx[font=\fontsize{7.5}{9}\bfseries]{1273}{941}{LEGEND (ArchiMate)}
\foreach \yy/\lab in {957/Business Actor,973/Business Role,988/Application Component,1003/Application Service}{\plx[f=8/10]{1290}{\yy}{\lab}}
\foreach \yy/\lab in {957/{Serving / Used By},972/{Access / Flow},987/Realization}{\plx[f=8/10]{1429}{\yy}{\lab}}
\draw[ink,line width=.7pt] (1275,952) circle (1.8) (1275,954) -- (1275,959) (1271,956) -- (1279,956) (1271.5,963) -- (1275,959) -- (1278.5,963);
\draw[orng!30!gray!60!white,fill=white,rounded corners=1.5pt,line width=.8pt] (1269,968.5) rectangle (1281,978);
\draw[blub!70!navy!60!white,fill=bluf,rounded corners=1.5pt,line width=.8pt] (1269,983.5) rectangle (1281,993);
\draw[teab,fill=teaf,rounded corners=1.5pt,line width=.8pt] (1269,998.5) rectangle (1281,1008);
\coordinate (l1a) at (1394,957);\coordinate (l1b) at (1421,957);
\coordinate (l2a) at (1394,972);\coordinate (l2b) at (1421,972);
\coordinate (l3a) at (1394,987);\coordinate (l3b) at (1421,987);
\draw[gray,line width=.9pt,-{Latex[length=5pt,width=4pt,color=ink]}] (l1a) -- (l1b);
\draw[gray!60!black,line width=.9pt,dash pattern=on 3pt off 2.5pt,-{Latex[length=5pt,width=4pt,color=ink]}] (l2a) -- (l2b);
\draw[gray!60!black,line width=.9pt,dash pattern=on 3pt off 2.5pt,-{Latex[length=5pt,width=4pt,color=ink]}] (l3a) -- (l3b);
\end{tikzpicture}
\end{document}
